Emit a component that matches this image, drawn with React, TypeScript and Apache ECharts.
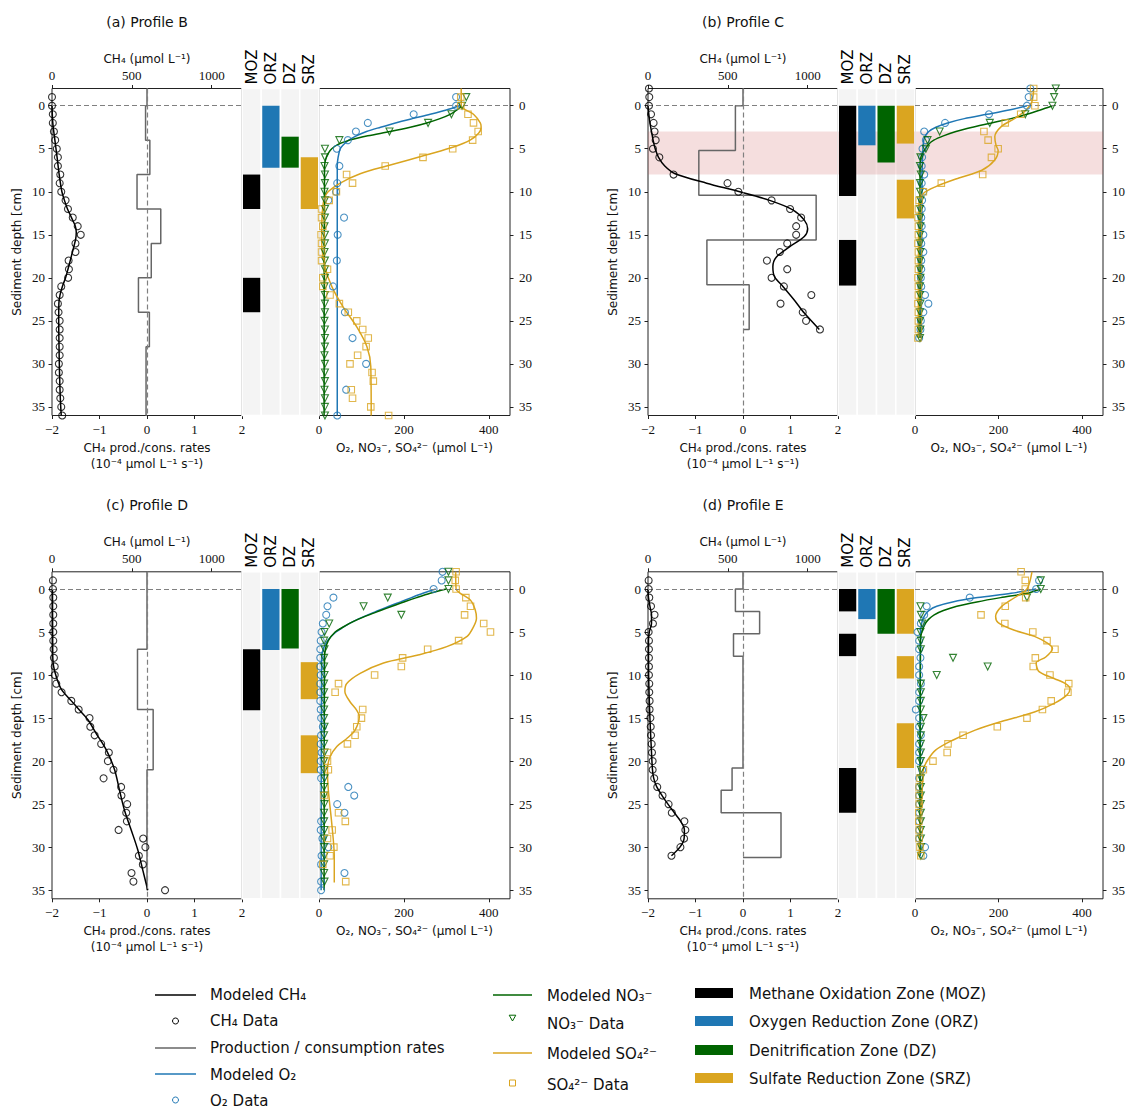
import React, { useEffect, useRef } from 'react';
import * as echarts from 'echarts';

// ======================= DATA =======================
// ---- Panel (a) Profile B ----
const a_ch4Depth = [-1,0,1,2,3,4,5,6,7,8,9,10,11,12,13,14,15,16,17,18,19,20,21,22,23,24,25,26,27,28,29,30,31,32,33,34,35,36];
const a_ch4Data = [0,0,5,5,12,20,30,37,37,52,48,58,85,100,130,161,180,147,147,104,106,101,58,48,37,41,48,48,48,48,48,43,43,48,48,52,58,64];
const a_ch4ModelDepth = [0,2,4,6,8,10,11,12,13,14,14.7,15.5,17,19,20,21,22,23,25,28,31,34,36];
const a_ch4Model = [0,5,18,32,45,62,78,97,122,146,152,148,128,100,85,65,50,43,42,44,47,52,58];
const a_rateEdges = [0,4,8,12,16,20,24,28,36];
const a_rates = [-0.03,0.06,-0.21,0.29,0.09,-0.18,0.05,-0.02];
const a_o2Depth = [-1,0,1,2,3,4,5,7,9,10,11,13,15,18,21,24,27,30,33,36];
const a_o2Data = [323,323,223,115,87,68,42,48,43,40,22,59,44,42,33,61,79,111,64,43];
const a_o2ModelDepth = [0,0.5,1,1.5,2,2.5,3,3.5,4,4.5,5,6,7,36];
const a_o2Model = [330,300,262,220,180,145,112,88,70,58,50,45,43,43];
const a_no3Depth = [-1,0,1,2,3,4,5,6,7,8,9,10,11,12,13,14,15,16,17,18,19,20,21,22,23,24,25,26,27,28,29,30,31,32,33,34,35,36];
const a_no3Data = [347,337,312,257,166,48,14,14,13,14,14,13,14,14,14,13,14,14,13,14,14,14,13,14,14,14,13,14,14,14,13,14,14,14,13,14,14,14];
const a_no3ModelDepth = [0,0.5,1,1.5,2,2.5,3,3.5,4,4.5,5,5.5,6,7,36];
const a_no3Model = [337,325,309,285,254,215,168,115,72,45,30,22,17,13,12];
const a_so4Depth = [-1,0,1,2,3,4,5,6,7,8,9,10,11,12,13,14,15,16,17,18,19,20,21,22,23,24,25,26,27,28,29,30,31,32,33,34,35,36];
const a_so4Data = [334,334,351,364,375,362,315,245,156,65,79,41,24,6,6,9,5,6,6,6,20,9,9,26,48,69,89,103,116,111,91,73,125,128,76,79,122,164];
const a_so4ModelDepth = [-2,0,1,2,2.5,3.2,4,4.8,5.7,6.9,7.9,9,10.2,11.7,15.6,18.7,21,23.4,25.7,28,30.3,36];
const a_so4Model = [335,335,364,380,382,376,356,317,254,168,97,50,18,9,6,14,30,57,89,113,122,123];
const a_moz = [[8,12],[20,24]];
const a_orz = [[0,7.2]];
const a_dz = [[3.6,7.2]];
const a_srz = [[6,12]];

// ---- Panel (b) Profile C ----
const b_ch4Depth = [-2,-1,0,1,2,3,4,5,6,8,9,10,11,12,13,14,15,16,17,18,19,20,21,22,23,24,25,26];
const b_ch4Data = [6,8,6,19,35,41,48,31,71,160,498,566,774,890,959,928,928,872,826,745,872,774,851,1023,830,969,990,1077];
const b_ch4ModelDepth = [0,1,2,3,4,5,6,7,7.9,9,10,11,12.1,13.3,14.3,15.2,16.4,17.6,18.7,19.9,21,22.6,24.1,26];
const b_ch4Model = [0,5,12,22,32,45,66,105,170,367,575,762,907,979,1000,979,886,803,782,793,845,917,979,1073];
const b_rateEdges = [0,5.2,10.4,15.6,20.8,26];
const b_rates = [-0.16,-0.93,1.54,-0.76,0.13];
const b_o2Depth = [-2,-1,0,1,2,3,4,5,6,7,8,9,10,11,12,13,14,15,16,17,18,19,20,21,22,23,24,25,26,27];
const b_o2Data = [276,272,268,177,72,22,26,18,17,16,22,16,20,17,16,15,16,20,15,20,15,15,14,15,24,32,20,14,13,10];
const b_o2ModelDepth = [0,0.5,1,1.5,2,2.5,3,3.5,4,5,8,27];
const b_o2Model = [268,225,172,118,78,50,33,25,21,19,17,15];
const b_no3Depth = [-2,-1,0,1,2,3,4,5,6,7,8,9,10,11,12,13,14,15,16,17,18,19,20,21,22,23,24,25,26,27];
const b_no3Data = [337,333,329,264,179,59,30,26,13,12,14,12,12,13,12,12,13,12,12,13,12,12,13,12,12,13,12,12,13,12];
const b_no3ModelDepth = [0,0.5,1,1.5,2,2.5,3,3.5,4,4.5,5,5.5,6,7,27];
const b_no3Model = [329,300,268,230,183,138,98,68,45,32,25,18,14,12,12];
const b_so4Depth = [-2,-1,0,1,2,3,4,5,6,8,9,10,11,12,13,14,15,16,17,18,19,20,21,22,23,24,25,26,27];
const b_so4Data = [284,284,287,253,216,165,175,199,183,162,63,20,10,8,7,8,8,7,8,8,8,7,8,8,7,8,8,8,7];
const b_so4ModelDepth = [-2,-0.5,0.5,1.5,2.4,3.6,4.6,5.2,6.3,7.5,8.4,9.4,10.2,11.4,27];
const b_so4Model = [284,280,266,238,207,191,194,199,191,160,105,50,20,9,8];
const b_moz = [[0,10.5],[15.6,20.9]];
const b_orz = [[0,4.6]];
const b_dz = [[0,6.6]];
const b_srz = [[0,4.4],[8.6,13.1]];
const b_band = [3, 8];

// ---- Panel (c) Profile D ----
const c_ch4Depth = [-1,0,1,2,3,4,5,6,7,8,9,10,11,12,13,14,15,16,17,18,19,20,21,22,23,24,25,26,27,28,29,30,31,32,33,34,35];
const c_ch4Data = [6,6,8,8,8,8,8,8,10,12,17,17,27,60,121,167,235,240,267,308,356,350,385,323,433,435,471,465,469,417,571,585,544,569,498,510,708];
const c_ch4ModelDepth = [0,5,8,9,10.2,11.7,13,14.1,15.2,16.8,18.7,21,23.4,25.7,28,30.3,32.7,35];
const c_ch4Model = [3,4,5,10,27,60,121,173,225,277,340,392,423,454,496,537,569,600];
const c_rateEdges = [0,7,14,21,28,35];
const c_rates = [0,-0.2,0.13,0,0];
const c_o2Depth = [-2,-1,0,1,2,3,4,5,6,7,8,9,10,11,12,13,14,15,16,17,18,19,20,21,22,23,24,25,26,27,28,29,30,31,32,33,34,35];
const c_o2Data = [291,289,270,34,20,17,9,6,4,3,3,3,4,3,3,3,4,5,9,5,4,6,4,4,5,69,83,43,60,5,4,8,22,6,5,60,5,5];
const c_o2ModelDepth = [0,0.5,1,1.5,2,2.5,3,3.5,4,4.5,5,6,7,8,35];
const c_o2Model = [275,245,218,192,165,140,115,92,72,55,40,20,10,6,5];
const c_no3Depth = [-2,-1,0,1,2,3,4,5,6,7,8,9,10,11,12,13,14,15,16,17,18,19,20,21,22,23,24,25,26,27,28,29,30,31,32,33,34];
const c_no3Data = [305,305,305,162,105,194,24,13,12,13,12,12,13,12,12,13,12,12,13,12,12,13,12,12,13,12,12,13,12,12,13,12,12,13,12,12,13];
const c_no3ModelDepth = [0,0.5,1,1.5,2,2.5,3,3.5,4,4.5,5,6,7,8,35];
const c_no3Model = [300,262,230,200,172,145,118,93,72,54,38,22,15,13,12];
const c_so4Depth = [-2,-1,0,1,2,3,4,5,6,7,8,9,10,11,12,14,15,16,17,18,19,20,21,24,26,27,28,29,30,31,32,34];
const c_so4Data = [323,321,323,346,357,343,388,404,329,256,197,194,131,46,38,103,100,89,85,67,20,20,22,12,46,62,31,20,35,26,9,63];
const c_so4ModelDepth = [-2,0,0.5,1.3,2.4,3.4,4.4,5.5,6.7,7.7,8.6,9.8,11,11.9,13.1,14.1,14.8,16.4,17.4,18.3,19.5,21,23.4,27.2,31.1,34.1];
const c_so4Model = [322,323,333,357,368,371,364,349,301,231,152,97,65,61,73,89,95,85,65,42,26,20,22,30,36,36];
const c_moz = [[7,14.1]];
const c_orz = [[0,7.1]];
const c_dz = [[0,6.9]];
const c_srz = [[8.5,12.8],[17,21.4]];

// ---- Panel (d) Profile E ----
const d_ch4Depth = [-1,0,1,2,3,4,5,6,7,8,9,10,11,12,13,14,15,16,17,18,19,20,21,22,23,24,25,26,27,28,29,30,31];
const d_ch4Data = [4,4,8,19,41,31,4,6,6,6,6,6,8,8,10,10,15,17,19,23,25,29,29,39,58,91,129,149,228,234,226,203,147];
const d_ch4ModelDepth = [0,1,2,3,4,5,6,10,15,19,21,22,23,24,25,26,27,28,29,30,31];
const d_ch4Model = [0,3,12,22,22,8,3,4,12,22,28,36,55,88,125,165,205,228,226,200,147];
const d_rateEdges = [0,2.6,5.2,7.8,10.4,13,15.6,18.2,20.8,23.4,26,28.6,31.2];
const d_rates = [-0.16,0.35,-0.2,0,0,0,0,0,-0.23,-0.46,0.8,0.8];
const d_o2Depth = [-1,0,1,2,3,4,5,6,7,8,9,10,11,12,13,14,15,16,17,18,19,20,21,22,23,24,25,26,27,28,29,30,31];
const d_o2Data = [297,290,131,28,22,14,6,10,10,13,10,10,14,10,10,2,10,10,14,10,10,10,17,10,10,10,10,10,10,10,10,24,20];
const d_o2ModelDepth = [0,0.5,1,1.5,2,2.5,3,3.5,4,5,31];
const d_o2Model = [290,230,150,90,52,33,24,19,16,13,12];
const d_no3Depth = [-1,0,1,2,3,4,5,6,7,8,9,10,11,12,13,14,15,16,17,18,19,20,21,22,23,24,25,26,27,28,29,30,31];
const d_no3Data = [301,301,268,13,14,17,13,14,14,91,174,52,14,14,14,14,20,14,14,14,14,14,14,14,14,14,14,14,14,14,14,14,14];
const d_no3ModelDepth = [0,0.5,1,1.5,2,2.5,3,3.5,4,5,6,31];
const d_no3Model = [301,268,205,148,100,68,46,33,25,16,13,12];
const d_so4Depth = [-2,-1,0,1,2,3,4,5,6,7,8,9,10,11,12,13,14,15,16,17,18,19,20,21,22,23,24,25,26,27,28,29,30,31];
const d_so4Data = [254,264,264,265,216,158,215,282,316,335,288,283,323,368,366,326,305,268,197,115,79,77,43,20,12,10,10,10,9,9,10,10,12,14];
const d_so4ModelDepth = [-2,0,0.9,2.05,3.2,3.9,4.8,5.5,6.3,6.9,7.9,8.6,9.6,10.4,11,11.6,12.3,13.3,14.3,15.4,16.4,17.6,18.7,19.9,21,23.4,27.2,31.1];
const d_so4Model = [280,268,242,207,193,199,238,286,317,329,313,290,297,333,360,371,364,333,286,207,144,89,50,30,20,17,12,10];
const d_moz = [[0,2.6],[5.2,7.8],[20.8,26]];
const d_orz = [[0,3.5]];
const d_dz = [[0,5.2]];
const d_srz = [[0,5.2],[7.8,10.4],[15.6,20.8]];

// ---- Axes / labels ----
const ZONE_NAMES = ['MOZ', 'ORZ', 'DZ', 'SRZ'];
const DEPTH_TICKS = [0, 5, 10, 15, 20, 25, 30, 35];
const CH4_TICKS = [0, 500, 1000];
const CONC_TICKS = [0, 200, 400];
const PANEL_TITLES = ['(a) Profile B', '(b) Profile C', '(c) Profile D', '(d) Profile E'];

// ======================= STYLE / LAYOUT =======================
const SANS = 'DejaVu Sans';
const SERIF = 'Liberation Serif';
const C_CH4 = '#000000';
const C_RATE = '#666666';
const C_O2 = '#1f77b4';
const C_NO3 = '#006400';
const C_SO4 = '#daa520';
const ZONE_COLORS = ['#000000', '#1f77b4', '#006400', '#daa520'];
const BAND_COLOR = 'rgba(205,92,92,0.2)';
const PANEL_POS = [
  { x: 52, y: 88.5 },
  { x: 648, y: 88.5 },
  { x: 52, y: 571.8 },
  { x: 648, y: 571.8 },
];
const W_A = 190, W_B = 77, W_C = 191, H = 327;

const toPts = (depths: number[], vals: number[]) => depths.map((d, i) => [vals[i], d]);
const stepPts = (edges: number[], rates: number[]) => {
  const pts: number[][] = [[0, -2], [0, edges[0]]];
  rates.forEach((r, i) => { pts.push([r, edges[i]], [r, edges[i + 1]]); });
  pts.push([0, edges[edges.length - 1]]);
  return pts;
};

const PANELS = [
  { ch4: toPts(a_ch4Depth, a_ch4Data), ch4M: toPts(a_ch4ModelDepth, a_ch4Model), rate: stepPts(a_rateEdges, a_rates),
    o2: toPts(a_o2Depth, a_o2Data), o2M: toPts(a_o2ModelDepth, a_o2Model),
    no3: toPts(a_no3Depth, a_no3Data), no3M: toPts(a_no3ModelDepth, a_no3Model),
    so4: toPts(a_so4Depth, a_so4Data), so4M: toPts(a_so4ModelDepth, a_so4Model),
    zones: [a_moz, a_orz, a_dz, a_srz], band: null as number[] | null },
  { ch4: toPts(b_ch4Depth, b_ch4Data), ch4M: toPts(b_ch4ModelDepth, b_ch4Model), rate: stepPts(b_rateEdges, b_rates),
    o2: toPts(b_o2Depth, b_o2Data), o2M: toPts(b_o2ModelDepth, b_o2Model),
    no3: toPts(b_no3Depth, b_no3Data), no3M: toPts(b_no3ModelDepth, b_no3Model),
    so4: toPts(b_so4Depth, b_so4Data), so4M: toPts(b_so4ModelDepth, b_so4Model),
    zones: [b_moz, b_orz, b_dz, b_srz], band: b_band },
  { ch4: toPts(c_ch4Depth, c_ch4Data), ch4M: toPts(c_ch4ModelDepth, c_ch4Model), rate: stepPts(c_rateEdges, c_rates),
    o2: toPts(c_o2Depth, c_o2Data), o2M: toPts(c_o2ModelDepth, c_o2Model),
    no3: toPts(c_no3Depth, c_no3Data), no3M: toPts(c_no3ModelDepth, c_no3Model),
    so4: toPts(c_so4Depth, c_so4Data), so4M: toPts(c_so4ModelDepth, c_so4Model),
    zones: [c_moz, c_orz, c_dz, c_srz], band: null as number[] | null },
  { ch4: toPts(d_ch4Depth, d_ch4Data), ch4M: toPts(d_ch4ModelDepth, d_ch4Model), rate: stepPts(d_rateEdges, d_rates),
    o2: toPts(d_o2Depth, d_o2Data), o2M: toPts(d_o2ModelDepth, d_o2Model),
    no3: toPts(d_no3Depth, d_no3Data), no3M: toPts(d_no3ModelDepth, d_no3Model),
    so4: toPts(d_so4Depth, d_so4Data), so4M: toPts(d_so4ModelDepth, d_so4Model),
    zones: [d_moz, d_orz, d_dz, d_srz], band: null as number[] | null },
];

const tick = { show: true, length: 3.5, lineStyle: { color: '#222', width: 1 } };
const tickLabel = { fontFamily: SERIF, fontSize: 13, color: '#111' };
const nameStyle = { fontFamily: SANS, fontSize: 12, color: '#111', lineHeight: 16 };
const dashStyle = { color: '#808080', type: [5, 3], width: 1.2 };
const plainNum = (v: number) => String(v).replace('-', '\u2212');

function zoneRender(params: any, api: any) {
  const col = api.value(0), s = api.value(1), e = api.value(2), kind = api.value(3);
  const cs = params.coordSys;
  const bw = api.size([1, 0])[0];
  const cx = api.coord([col, 0])[0];
  if (kind === 0) {
    return { type: 'rect', shape: { x: cx - bw / 2, y: cs.y, width: bw, height: cs.height },
      style: { fill: '#f4f4f4', stroke: '#ffffff', lineWidth: 1.5 } };
  }
  const y0 = api.coord([col, s])[1], y1 = api.coord([col, e])[1];
  if (kind === 5) {
    return { type: 'rect', shape: { x: cs.x, y: y0, width: cs.width, height: y1 - y0 }, style: { fill: BAND_COLOR } };
  }
  return { type: 'rect', shape: { x: cx - bw / 2 + 1, y: y0, width: bw - 2, height: y1 - y0 },
    style: { fill: ZONE_COLORS[kind - 1] } };
}

function bandRender(params: any, api: any) {
  const cs = params.coordSys;
  const y0 = api.coord([api.value(0), api.value(1)])[1];
  const y1 = api.coord([api.value(0), api.value(2)])[1];
  return { type: 'rect', shape: { x: cs.x, y: y0, width: cs.width, height: y1 - y0 }, style: { fill: BAND_COLOR } };
}

const openMarker = (color: string) => ({ color: 'rgba(0,0,0,0)', borderColor: color, borderWidth: 1.1 });

function buildOption() {
  const grid: any[] = [], xAxis: any[] = [], yAxis: any[] = [], series: any[] = [];
  PANELS.forEach((p, i) => {
    const pos = PANEL_POS[i];
    const g = i * 3, xi = i * 4, yi = i * 3;
    grid.push({ left: pos.x, top: pos.y, width: W_A, height: H, show: true, borderColor: '#222', borderWidth: 1 });
    grid.push({ left: pos.x + W_A, top: pos.y, width: W_B, height: H, show: false });
    grid.push({ left: pos.x + W_A + W_B, top: pos.y, width: W_C, height: H, show: true, borderColor: '#222', borderWidth: 1 });

    xAxis.push({ gridIndex: g, type: 'value', position: 'bottom', min: -2, max: 2, interval: 1,
      axisLine: { show: false, onZero: false }, axisTick: tick, splitLine: { show: false },
      axisLabel: { ...tickLabel, margin: 7, formatter: plainNum },
      name: 'CH\u2084 prod./cons. rates\n(10\u207B\u2074 \u03BCmol L\u207B\u00B9 s\u207B\u00B9)',
      nameLocation: 'middle', nameGap: 24, nameTextStyle: nameStyle });
    xAxis.push({ gridIndex: g, type: 'value', position: 'top', min: 0, max: 1190,
      axisLine: { show: false, onZero: false }, axisTick: { ...tick, customValues: CH4_TICKS }, splitLine: { show: false },
      axisLabel: { ...tickLabel, margin: 7, customValues: CH4_TICKS, formatter: plainNum },
      name: 'CH\u2084 (\u03BCmol L\u207B\u00B9)', nameLocation: 'middle', nameGap: 22, nameTextStyle: nameStyle });
    xAxis.push({ gridIndex: g + 1, type: 'category', position: 'top', data: ZONE_NAMES,
      axisLine: { show: false, onZero: false }, axisTick: { show: false }, splitLine: { show: false },
      axisLabel: { rotate: -90, interval: 0, margin: 4, fontFamily: SANS, fontSize: 15, color: '#000' } });
    xAxis.push({ gridIndex: g + 2, type: 'value', position: 'bottom', min: 0, max: 450,
      axisLine: { show: false, onZero: false }, axisTick: { ...tick, customValues: CONC_TICKS }, splitLine: { show: false },
      axisLabel: { ...tickLabel, margin: 7, customValues: CONC_TICKS, formatter: plainNum },
      name: 'O\u2082, NO\u2083\u207B, SO\u2084\u00B2\u207B (\u03BCmol L\u207B\u00B9)', nameLocation: 'middle', nameGap: 24,
      nameTextStyle: nameStyle });

    yAxis.push({ gridIndex: g, type: 'value', inverse: true, min: -2, max: 36, position: 'left',
      axisLine: { show: false, onZero: false }, axisTick: { ...tick, customValues: DEPTH_TICKS }, splitLine: { show: false },
      axisLabel: { ...tickLabel, margin: 7, customValues: DEPTH_TICKS, formatter: plainNum },
      name: 'Sediment depth [cm]', nameLocation: 'middle', nameGap: 27, nameTextStyle: nameStyle });
    yAxis.push({ gridIndex: g + 1, type: 'value', inverse: true, min: -2, max: 36, show: false,
      axisLine: { onZero: false }, splitLine: { show: false } });
    yAxis.push({ gridIndex: g + 2, type: 'value', inverse: true, min: -2, max: 36, position: 'right',
      axisLine: { show: false, onZero: false }, axisTick: { ...tick, customValues: DEPTH_TICKS }, splitLine: { show: false },
      axisLabel: { ...tickLabel, margin: 9, customValues: DEPTH_TICKS, formatter: plainNum } });

    if (p.band) {
      series.push({ type: 'custom', xAxisIndex: xi, yAxisIndex: yi, z: 1, silent: true,
        renderItem: bandRender, data: [[0, p.band[0], p.band[1]]] });
      series.push({ type: 'custom', xAxisIndex: xi + 3, yAxisIndex: yi + 2, z: 1, silent: true,
        renderItem: bandRender, data: [[0, p.band[0], p.band[1]]] });
    }

    // rates step line with dashed reference lines
    series.push({ type: 'line', xAxisIndex: xi, yAxisIndex: yi, data: p.rate, symbol: 'none', z: 3,
      lineStyle: { color: C_RATE, width: 1.5 },
      markLine: { silent: true, symbol: ['none', 'none'], label: { show: false }, lineStyle: dashStyle,
        data: [{ xAxis: 0 }, { yAxis: 0 }] } });
    series.push({ type: 'line', xAxisIndex: xi + 1, yAxisIndex: yi, data: p.ch4M, symbol: 'none', smooth: 0.3, z: 4,
      lineStyle: { color: C_CH4, width: 1.5 } });
    series.push({ type: 'scatter', xAxisIndex: xi + 1, yAxisIndex: yi, data: p.ch4, symbol: 'circle', symbolSize: 7, z: 5,
      itemStyle: openMarker(C_CH4) });

    // zones
    const zoneData: number[][] = [[0, -2, 36, 0], [1, -2, 36, 0], [2, -2, 36, 0], [3, -2, 36, 0]];
    if (p.band) zoneData.push([0, p.band[0], p.band[1], 5]);
    p.zones.forEach((list, k) => list.forEach((r) => zoneData.push([k, r[0], r[1], k + 1])));
    series.push({ type: 'custom', xAxisIndex: xi + 2, yAxisIndex: yi + 1, silent: true, renderItem: zoneRender, data: zoneData });

    // concentrations
    series.push({ type: 'line', xAxisIndex: xi + 3, yAxisIndex: yi + 2, data: p.o2M, symbol: 'none', smooth: 0.3, z: 3,
      lineStyle: { color: C_O2, width: 1.5 },
      markLine: { silent: true, symbol: ['none', 'none'], label: { show: false }, lineStyle: dashStyle, data: [{ yAxis: 0 }] } });
    series.push({ type: 'line', xAxisIndex: xi + 3, yAxisIndex: yi + 2, data: p.no3M, symbol: 'none', smooth: 0.3, z: 3,
      lineStyle: { color: C_NO3, width: 1.5 } });
    series.push({ type: 'line', xAxisIndex: xi + 3, yAxisIndex: yi + 2, data: p.so4M, symbol: 'none', smooth: 0.3, z: 3,
      lineStyle: { color: C_SO4, width: 1.5 } });
    series.push({ type: 'scatter', xAxisIndex: xi + 3, yAxisIndex: yi + 2, data: p.o2, symbol: 'circle', symbolSize: 7, z: 5,
      itemStyle: openMarker(C_O2) });
    series.push({ type: 'scatter', xAxisIndex: xi + 3, yAxisIndex: yi + 2, data: p.no3, symbol: 'triangle', symbolRotate: 180,
      symbolSize: 7, z: 5, itemStyle: openMarker(C_NO3) });
    series.push({ type: 'scatter', xAxisIndex: xi + 3, yAxisIndex: yi + 2, data: p.so4, symbol: 'rect', symbolSize: 6.5, z: 5,
      itemStyle: openMarker(C_SO4) });
  });

  // titles + legend (graphic)
  const elements: any[] = [];
  const txt = (x: number, y: number, text: string, size: number, align = 'left') => ({
    type: 'text', x, y, silent: true,
    style: { text, fill: '#111', fontFamily: SANS, fontSize: size, align, verticalAlign: 'middle',
      textAlign: align, textVerticalAlign: 'middle' },
  });
  PANEL_TITLES.forEach((t, i) => {
    elements.push(txt(PANEL_POS[i].x + W_A / 2, PANEL_POS[i].y - 66.5, t, 14, 'center'));
  });

  const col1 = [
    { label: 'Modeled CH\u2084', kind: 'line', color: C_CH4, y: 995, ty: 995 },
    { label: 'CH\u2084 Data', kind: 'circle', color: C_CH4, y: 1021, ty: 1021 },
    { label: 'Production / consumption rates', kind: 'line', color: C_RATE, y: 1048, ty: 1048 },
    { label: 'Modeled O\u2082', kind: 'line', color: C_O2, y: 1074, ty: 1075 },
    { label: 'O\u2082 Data', kind: 'circle', color: C_O2, y: 1100, ty: 1101 },
  ];
  const col2 = [
    { label: 'Modeled NO\u2083\u207B', kind: 'line', color: C_NO3, y: 995, ty: 996 },
    { label: 'NO\u2083\u207B Data', kind: 'tri', color: C_NO3, y: 1018, ty: 1024 },
    { label: 'Modeled SO\u2084\u00B2\u207B', kind: 'line', color: C_SO4, y: 1053, ty: 1054 },
    { label: 'SO\u2084\u00B2\u207B Data', kind: 'sq', color: C_SO4, y: 1083, ty: 1085 },
  ];
  const col3 = [
    { label: 'Methane Oxidation Zone (MOZ)', color: ZONE_COLORS[0], y: 993 },
    { label: 'Oxygen Reduction Zone (ORZ)', color: ZONE_COLORS[1], y: 1021 },
    { label: 'Denitrification Zone (DZ)', color: ZONE_COLORS[2], y: 1050 },
    { label: 'Sulfate Reduction Zone (SRZ)', color: ZONE_COLORS[3], y: 1078 },
  ];
  const handle = (it: any, x1: number, x2: number) => {
    const cx = (x1 + x2) / 2;
    if (it.kind === 'line') return { type: 'line', silent: true, shape: { x1, y1: it.y, x2, y2: it.y }, style: { stroke: it.color, lineWidth: 1.5 } };
    if (it.kind === 'circle') return { type: 'circle', silent: true, shape: { cx, cy: it.y, r: 3 }, style: { fill: 'none', stroke: it.color, lineWidth: 1 } };
    if (it.kind === 'tri') return { type: 'polygon', silent: true, shape: { points: [[cx - 3.3, it.y - 2.8], [cx + 3.3, it.y - 2.8], [cx, it.y + 3]] }, style: { fill: 'none', stroke: it.color, lineWidth: 1 } };
    return { type: 'rect', silent: true, shape: { x: cx - 3, y: it.y - 3, width: 6, height: 6 }, style: { fill: 'none', stroke: it.color, lineWidth: 1 } };
  };
  col1.forEach((it) => { elements.push(handle(it, 155, 196)); elements.push(txt(210, it.ty, it.label, 15)); });
  col2.forEach((it) => { elements.push(handle(it, 493, 532)); elements.push(txt(547, it.ty, it.label, 15)); });
  col3.forEach((it) => {
    elements.push({ type: 'rect', silent: true, shape: { x: 695, y: it.y - 5, width: 38, height: 10 }, style: { fill: it.color } });
    elements.push(txt(749, it.y + 1, it.label, 15));
  });

  return {
    animation: false,
    backgroundColor: '#ffffff',
    grid, xAxis, yAxis, series,
    graphic: { elements },
  };
}

export default function App() {
  const ref = useRef<HTMLDivElement>(null);
  useEffect(() => {
    const chart = echarts.init(ref.current as HTMLDivElement, null, { renderer: 'svg' });
    chart.setOption(buildOption() as any);
    return () => chart.dispose();
  }, []);
  return (
    <div
      ref={ref}
      style={{ position: 'absolute', left: 0, top: 0, width: 1128, height: 1111, background: '#fff' }}
    />
  );
}
